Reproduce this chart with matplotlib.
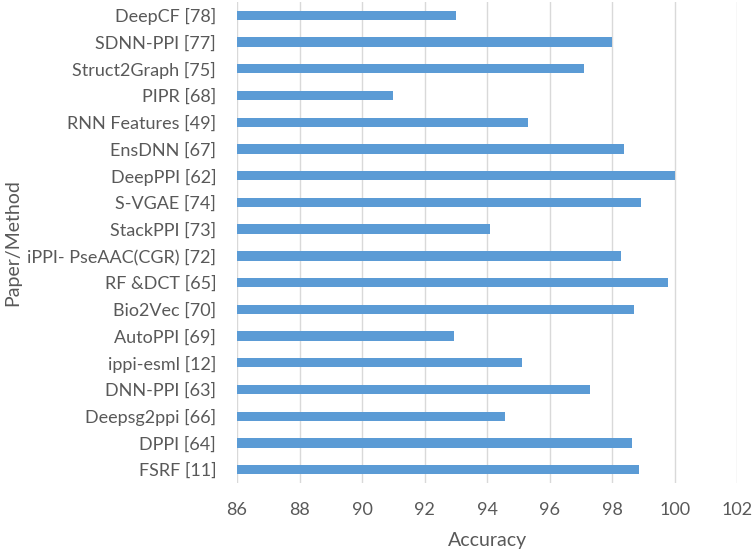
import matplotlib.pyplot as plt

methods = ["DeepCF [78]", "SDNN-PPI [77]", "Struct2Graph [75]", "PIPR [68]",
           "RNN Features [49]", "EnsDNN [67]", "DeepPPI [62]", "S-VGAE [74]",
           "StackPPI [73]", "iPPI- PseAAC(CGR) [72]", "RF &DCT [65]",
           "Bio2Vec [70]", "AutoPPI [69]", "ippi-esml [12]", "DNN-PPI [63]",
           "Deepsg2ppi [66]", "DPPI [64]", "FSRF [11]"]
accuracy = [93.0, 98.0, 97.1, 91.0, 95.3, 98.37, 100.0, 98.93, 94.1, 98.29,
            99.8, 98.7, 92.94, 95.11, 97.3, 94.56, 98.64, 98.87]
xticks = [86, 88, 90, 92, 94, 96, 98, 100, 102]

plt.rcParams['font.family'] = ['Lato', 'DejaVu Sans']
gray = "#595959"

fig = plt.figure(figsize=(7.52, 5.55), dpi=100)
ax = fig.add_axes([0.3152, 0.1297, 0.665, 0.8667])

pos = list(range(len(methods)))
ax.barh(pos, [a - 86 for a in accuracy], left=86, height=0.35,
        color="#5B9BD5", zorder=3)

ax.set_xlim(86, 102)
ax.set_ylim(len(methods) - 0.5, -0.5)
ax.set_xticks(xticks)
ax.set_yticks(pos)
ax.set_yticklabels(methods)
ax.grid(axis="x", color="#d9d9d9", linewidth=1.0, zorder=0)
for s in ax.spines.values():
    s.set_visible(False)
ax.tick_params(axis="both", length=0, labelsize=13, colors=gray)
ax.tick_params(axis="y", pad=15)
ax.tick_params(axis="x", pad=14)
ax.set_xlabel("Accuracy", fontsize=14, color=gray, labelpad=10)
ax.set_ylabel("Paper/Method", fontsize=14, color=gray)
ax.yaxis.set_label_coords(-0.432, 0.5)

fig.savefig("out.png")
